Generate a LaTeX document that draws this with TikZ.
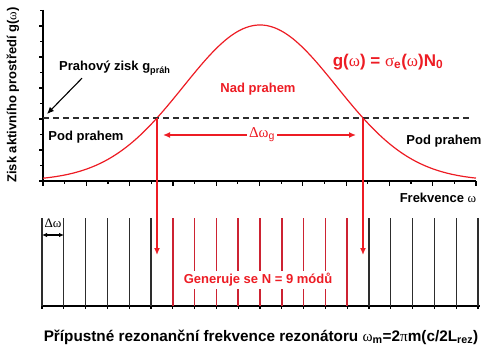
\documentclass[tikz,border=0pt]{standalone}
\usepackage{fontspec}
\setmainfont{Liberation Sans}
\newfontfamily\grkfont{Liberation Serif}
\usetikzlibrary{arrows.meta,positioning}
\definecolor{gred}{RGB}{237,28,36}
\definecolor{mred}{RGB}{205,35,50}
\definecolor{mgray}{RGB}{45,45,45}
\newcommand{\grtext}[1]{{\grkfont\mdseries #1}}

\begin{document}
\begin{tikzpicture}[
  x=1pt,y=1pt,
  lbl/.style={font=\bfseries\fontsize{13}{15}\selectfont,inner sep=1pt},
  rlbl/.style={lbl,text=gred},
  axis/.style={line width=1.2pt,black},
  arrow/.style={-{Latex[length=7pt,width=6pt]},line width=1.3pt},
  darrow/.style={{Latex[length=5pt,width=4.5pt]}-{Latex[length=5pt,width=4.5pt]},line width=1.2pt},
  mode/.style={line width=1.1pt,mgray},
  redmode/.style={line width=1.6pt,mred}
]
\useasboundingbox (0,0) rectangle (482,346);

\coordinate (o) at (43,165);
\coordinate (ytop) at (43,336);
\coordinate (xend) at (476,165);
\draw[axis] (ytop) -- (o) -- (xend);
\foreach \i in {0,...,5} {
  \draw[axis] ({43},{165+31*\i}) -- ++(-4.5,0);
  \draw[axis] ({43},{180.5+31*\i}) -- ++(-3,0);
}
\foreach \i in {0,2,...,20} \draw[axis] ({43+21.65*\i},165) -- ++(0,-4.5);
\foreach \i in {1,3,...,19} \draw[axis] ({43+21.65*\i},165) -- ++(0,-3);

\draw[gred,line width=1.2pt,domain=43:476,samples=150]
  plot (\x,{165+156*exp(-((\x-260)/108.2)^2)});

\coordinate (thl) at (43,228);
\coordinate (thr) at (471,228);
\draw[mgray,line width=1.2pt,dash pattern=on 6pt off 4pt] (thl) -- (thr);

\node[lbl,rotate=90] (ylab) at (13,251) {Zisk aktivního prostředí g(\grtext{ω})};
\node[lbl,anchor=west] (prah) at (58,278) {Prahový zisk g\textsubscript{práh}};
\coordinate (prahtip) at (47,232);
\draw[arrow,line width=1.1pt] ([xshift=24pt,yshift=-2pt]prah.south west) -- (prahtip);

\node[lbl] (podl) at (86,209) {Pod prahem};
\node[lbl] (podr) at (444,205) {Pod prahem};
\node[rlbl] (nad) at (258,257) {Nad prahem};
\node[rlbl,font=\bfseries\fontsize{17}{20}\selectfont] (gform) at (388,284)
  {g(\grtext{ω}) = \grtext{σ}\textsubscript{e}(\grtext{ω})N\textsubscript{0}};
\node[lbl] (frek) at (438,148) {Frekvence \grtext{ω}};

\coordinate (cl) at (157,228);
\coordinate (cr) at (363,228);
\coordinate (bl) at (157,91);
\coordinate (br) at (363,91);
\draw[arrow,gred] (cl) -- (bl);
\draw[arrow,gred] (cr) -- (br);

\node[fill=white,text=gred,inner sep=2pt,font=\fontsize{15}{17}\selectfont] (dwg) at (262,211)
  {\grtext{Δω}\textsubscript{g}};
\coordinate (dl) at (163,211);
\coordinate (dr) at (356,211);
\draw[arrow,gred] (dwg.west) -- (dl);
\draw[arrow,gred] (dwg.east) -- (dr);

\coordinate (b0) at (42,40);
\coordinate (b1) at (480,40);
\draw[axis] (b0) -- (b1);
\foreach \i in {0,...,20} \draw[axis] ({42+21.8*\i},40) -- ++(0,-3);
\foreach \i in {0,...,5,15,16,...,20} \draw[mode] ({42+21.8*\i},40) -- ++(0,88);
\foreach \i in {6,...,14} \draw[redmode] ({42+21.8*\i},40) -- ++(0,88);

\node[rlbl,fill=white,inner sep=2pt] (gen) at (258,66) {Generuje se N = 9 módů};

\coordinate (m0) at (42,111);
\coordinate (m1) at (64,111);
\draw[darrow] (m0) -- (m1);
\node[inner sep=0pt,font=\fontsize{13}{15}\selectfont] (dw) at (53,123) {\grtext{Δω}};

\node[lbl,font=\bfseries\fontsize{15.3}{18}\selectfont] (title) at (261,9)
  {Přípustné rezonanční frekvence rezonátoru \grtext{ω}\textsubscript{m}=2\grtext{π}m(c/2L\textsubscript{rez})};
\end{tikzpicture}
\end{document}
